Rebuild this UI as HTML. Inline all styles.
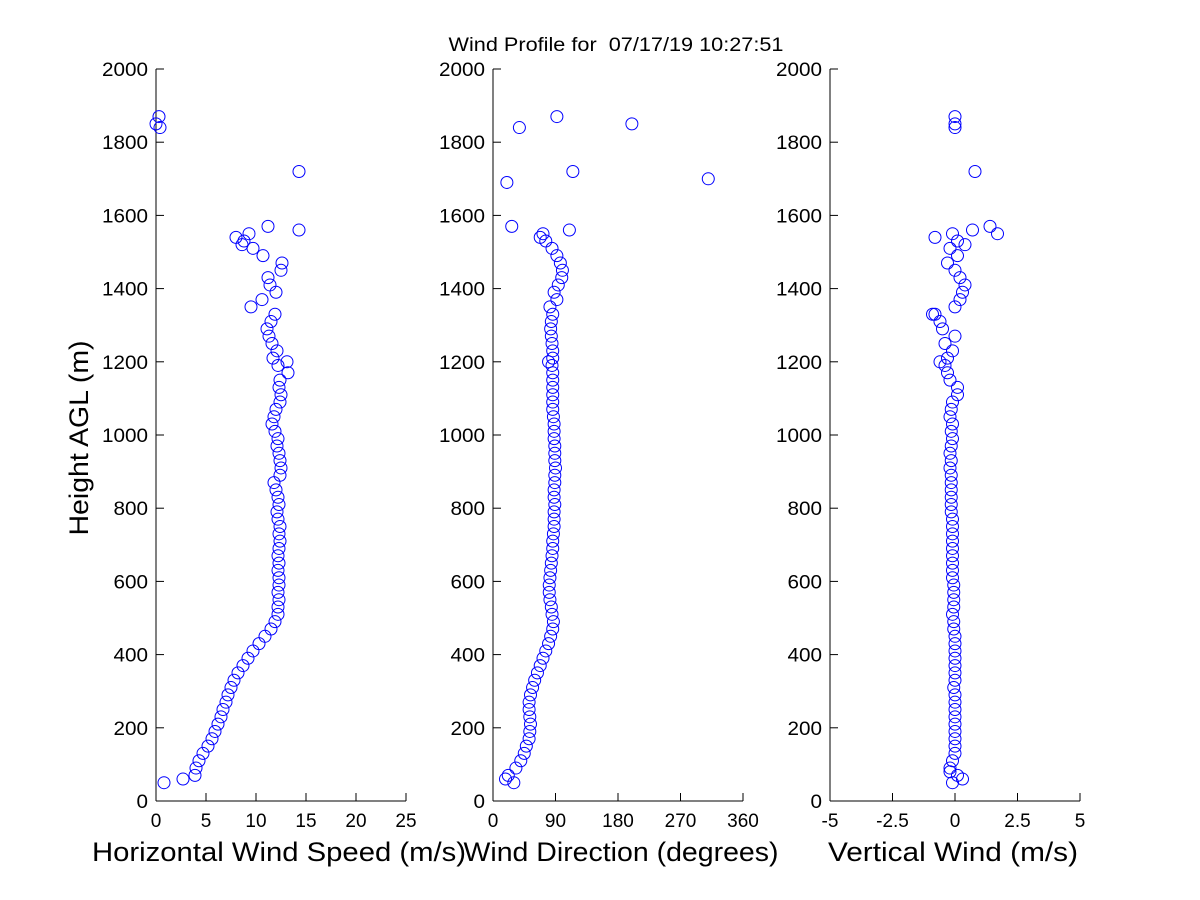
<!DOCTYPE html>
<html><head><meta charset="utf-8"><style>
html,body{margin:0;padding:0;background:#fff;}
svg{display:block;font-family:"Liberation Sans",sans-serif;}
</style></head><body>
<svg id="chart" width="1200" height="900" viewBox="0 0 1200 900">
<rect width="1200" height="900" fill="#fff"/>
<text x="616" y="51" font-size="19" text-anchor="middle" xml:space="preserve" style="white-space:pre" textLength="335" lengthAdjust="spacingAndGlyphs">Wind Profile for  07/17/19 10:27:51</text>
<text transform="translate(88,438) rotate(-90)" font-size="27" text-anchor="middle" textLength="195" lengthAdjust="spacingAndGlyphs">Height AGL (m)</text>
</svg>
<script>
const heights = [50,70,90,110,130,150,170,190,210,230,250,270,290,310,330,350,370,390,410,430,450,470,490,510,530,550,570,590,610,630,650,670,690,710,730,750,770,790,810,830,850,870,890,910,930,950,970,990,1010,1030,1050,1070,1090,1110,1130,1150,1170,1190,1210,1230,1250,1270,1290,1310,1330,1350,1370,1390,1410,1430,1450,1470,1490,1510,1530,1550];
const speedValues = [0.8,3.9,4.0,4.3,4.7,5.2,5.6,5.9,6.2,6.5,6.7,7.0,7.2,7.5,7.8,8.2,8.7,9.2,9.7,10.3,10.9,11.5,11.9,12.2,12.2,12.3,12.2,12.3,12.3,12.2,12.3,12.2,12.3,12.4,12.3,12.4,12.2,12.1,12.3,12.2,12.0,11.8,12.4,12.5,12.4,12.3,12.1,12.2,11.9,11.6,11.8,12.0,12.4,12.5,12.3,12.4,13.2,12.2,11.7,12.1,11.6,11.3,11.1,11.5,11.9,9.5,10.6,12.0,11.4,11.2,12.5,12.6,10.7,9.7,8.8,9.3];
const speedExtraHeights = [60,1200,1520,1540,1570,1560,1720,1870,1850,1840];
const speedExtraValues = [2.7,13.1,8.6,8.0,11.2,14.3,14.3,0.3,0.0,0.4];
const dirValues = [30,22,33,40,45,48,52,53,54,53,52,52,54,57,60,64,68,72,76,80,83,86,87,85,84,82,81,81,82,83,84,85,86,86,87,88,88,88,89,88,88,89,89,90,89,89,89,88,88,88,87,86,86,86,86,86,86,85,86,86,85,84,83,84,86,82,92,88,94,99,100,97,92,85,76,72];
const dirExtraHeights = [60,1200,1540,1570,1690,1840,1870,1720,1560,1850,1700];
const dirExtraValues = [18,80,68,27,20,38,92,115,110,200,310];
const vertValues = [-0.1,0.1,-0.2,-0.1,0,0,0,0,0,0,0,0,0,-0.05,0,0,0,0,0,0,0,-0.05,-0.05,-0.1,-0.05,-0.05,-0.05,-0.05,-0.1,-0.1,-0.1,-0.1,-0.1,-0.1,-0.1,-0.1,-0.1,-0.15,-0.15,-0.15,-0.15,-0.15,-0.15,-0.2,-0.15,-0.2,-0.15,-0.1,-0.15,-0.1,-0.2,-0.15,-0.1,0.1,0.1,-0.2,-0.3,-0.4,-0.3,-0.1,-0.4,0.0,-0.5,-0.6,-0.9,0.0,0.2,0.3,0.4,0.2,0.0,-0.3,0.1,-0.2,0.1,-0.1];
const vertExtraHeights = [60,80,1200,1330,1540,1520,1550,1570,1560,1720,1870,1850,1840];
const vertExtraValues = [0.3,-0.2,-0.6,-0.8,-0.8,0.4,1.7,1.4,0.7,0.8,0,0,0];
const yTicks = [0,200,400,600,800,1000,1200,1400,1600,1800,2000];
const speedTicks = [0,5,10,15,20,25];
const dirTicks = [0,90,180,270,360];
const vertTicks = [-5,-2.5,0,2.5,5];
const vertTickLabels = ['-5','-2.5','0','2.5','5'];

const NS = 'http://www.w3.org/2000/svg';
const svg = document.getElementById('chart');
const Y0 = 801, Y1 = 69;
const yScale = h => Y0 + (Y1 - Y0) * h / 2000;
function mk(tag, attrs, parent) {
  const e = document.createElementNS(NS, tag);
  for (const k in attrs) e.setAttribute(k, attrs[k]);
  (parent || svg).appendChild(e);
  return e;
}
function panel(name, x0, x1, xmin, xmax, xt, xtl, title, titleX, titleW, hs, vs, eh, ev) {
  const g = mk('g', {});
  
  
  const xs = v => x0 + (x1 - x0) * (v - xmin) / (xmax - xmin);
  const ya = mk('line', {x1: x0, y1: Y0, x2: x0, y2: Y1, stroke: '#000', 'stroke-width': 1}, g);
  
  
  const xa = mk('line', {x1: x0, y1: Y0, x2: x1, y2: Y0, stroke: '#000', 'stroke-width': 1}, g);
  
  
  yTicks.forEach(t => {
    const y = yScale(t);
    mk('line', {x1: x0, y1: y, x2: x0 + 8, y2: y, stroke: '#000'}, g);
    const s = String(t);
    const tx = mk('text', {x: x0 - 8, y: y + 7, 'font-size': 19, 'text-anchor': 'end', textLength: s.length * 11.5, lengthAdjust: 'spacingAndGlyphs'}, g);
    tx.textContent = s;
    
    
  });
  xt.forEach((t, i) => {
    const x = xs(t);
    mk('line', {x1: x, y1: Y0, x2: x, y2: Y0 - 8, stroke: '#000'}, g);
    const s = xtl ? xtl[i] : String(t);
    const tx = mk('text', {x: x, y: Y0 + 26, 'font-size': 19, 'text-anchor': 'middle'}, g);
    tx.textContent = s;
    
    
  });
  const ttl = mk('text', {x: titleX, y: 861, 'font-size': 27, 'text-anchor': 'middle', textLength: titleW, lengthAdjust: 'spacingAndGlyphs'}, g);
  ttl.textContent = title;
  
  
  const allH = hs.concat(eh), allV = vs.concat(ev);
  allH.forEach((h, i) => {
    const c = mk('circle', {cx: xs(allV[i]), cy: yScale(h), r: 6, fill: 'none', stroke: '#0000ff', 'stroke-width': 1}, g);
    
    
  });
}
panel('speed', 156, 406, 0, 25, speedTicks, null, 'Horizontal Wind Speed (m/s)', 279, 374, heights, speedValues, speedExtraHeights, speedExtraValues);
panel('direction', 493, 743, 0, 360, dirTicks, null, 'Wind Direction (degrees)', 621, 315, heights, dirValues, dirExtraHeights, dirExtraValues);
panel('vertical', 830, 1080, -5, 5, vertTicks, vertTickLabels, 'Vertical Wind (m/s)', 953, 250, heights, vertValues, vertExtraHeights, vertExtraValues);
</script>
</body></html>
